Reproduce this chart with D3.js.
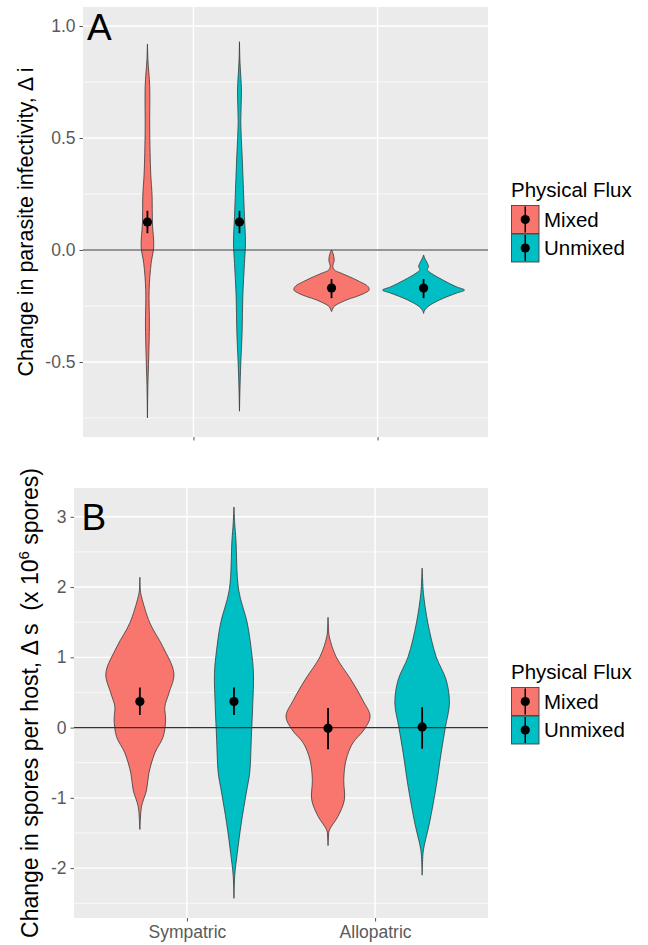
<!DOCTYPE html>
<html>
<head>
<meta charset="utf-8">
<script src="https://cdn.jsdelivr.net/npm/d3@7"></script>
<style>
body { margin: 0; background: #fff; }
text { font-family: "Liberation Sans", Arial, sans-serif; }
</style>
</head>
<body>
<div id="chart"></div>
<script>
// categories / groups
var categories = ["Sympatric", "Allopatric"];
var groups = ["Mixed", "Unmixed"];
var groupColors = ["#F8766D", "#00BFC4"];

// Panel A violins: values of delta i and relative density (1 = widest)
var aSymMixedY = [0.92, 0.85, 0.73, 0.54, 0.34, 0.24, 0.12, 0.015, -0.06, -0.18, -0.33, -0.48, -0.6, -0.75];
var aSymMixedD = [0, 0.012, 0.055, 0.055, 0.08, 0.113, 0.12, 0.152, 0.089, 0.041, 0.048, 0.031, 0.012, 0];
var aSymUnmixedY = [0.93, 0.84, 0.71, 0.57, 0.42, 0.27, 0.15, 0.03, -0.06, -0.21, -0.36, -0.51, -0.62, -0.72];
var aSymUnmixedD = [0, 0.012, 0.048, 0.031, 0.065, 0.096, 0.12, 0.145, 0.12, 0.08, 0.065, 0.031, 0.012, 0];
var aAlloMixedY = [0.0, -0.015, -0.045, -0.074, -0.09, -0.104, -0.134, -0.164, -0.179, -0.193, -0.208, -0.223, -0.253, -0.265, -0.275];
var aAlloMixedD = [0, 0.036, 0.065, 0.031, 0.072, 0.241, 0.602, 0.884, 0.908, 0.795, 0.602, 0.361, 0.055, 0.024, 0];
var aAlloUnmixedY = [-0.022, -0.04, -0.055, -0.074, -0.088, -0.104, -0.134, -0.164, -0.179, -0.193, -0.223, -0.253, -0.27, -0.283];
var aAlloUnmixedD = [0, 0.036, 0.08, 0.12, 0.09, 0.186, 0.465, 0.788, 0.988, 0.788, 0.386, 0.104, 0.024, 0];

// Panel B violins: values of delta s (x 10^6) and relative density
var bSymMixedY = [2.14, 1.95, 1.86, 1.49, 1.15, 0.77, 0.49, 0.30, 0.11, -0.13, -0.36, -0.65, -0.89, -1.12, -1.30, -1.45];
var bSymMixedD = [0, 0.012, 0.04, 0.236, 0.544, 0.804, 0.686, 0.591, 0.608, 0.551, 0.355, 0.213, 0.158, 0.04, 0.012, 0];
var bSymUnmixedY = [3.14, 2.9, 2.67, 1.96, 1.49, 1.11, 0.77, 0.30, -0.17, -0.41, -0.65, -0.93, -1.36, -1.79, -2.1, -2.43];
var bSymUnmixedD = [0, 0.019, 0.047, 0.111, 0.314, 0.409, 0.461, 0.442, 0.409, 0.395, 0.371, 0.291, 0.173, 0.078, 0.019, 0];
var bAlloMixedY = [1.57, 1.4, 1.29, 1.01, 0.68, 0.39, 0.16, -0.03, -0.22, -0.46, -0.74, -1.03, -1.27, -1.46, -1.57, -1.68];
var bAlloMixedD = [0, 0.012, 0.031, 0.189, 0.544, 0.82, 0.993, 0.851, 0.584, 0.426, 0.371, 0.385, 0.229, 0.031, 0.009, 0];
var bAlloUnmixedY = [2.27, 2.1, 1.91, 1.49, 1.01, 0.68, 0.35, 0.01, -0.36, -0.84, -1.36, -1.74, -1.92, -2.10];
var bAlloUnmixedD = [0, 0.012, 0.031, 0.135, 0.331, 0.567, 0.645, 0.551, 0.449, 0.331, 0.173, 0.031, 0.009, 0];

// means with 95% CI, order: Sym-Mixed, Sym-Unmixed, Allo-Mixed, Allo-Unmixed
var aMean = [0.125, 0.125, -0.17, -0.17];
var aLow = [0.075, 0.075, -0.215, -0.215];
var aHigh = [0.175, 0.175, -0.13, -0.13];
var bMean = [0.37, 0.37, -0.01, 0.01];
var bLow = [0.18, 0.18, -0.31, -0.30];
var bHigh = [0.57, 0.57, 0.28, 0.29];

var aTicks = [-0.5, 0, 0.5, 1.0];
var bTicks = [-2, -1, 0, 1, 2, 3];

var width = 648, height = 945;

var svg = d3.select("#chart").append("svg")
  .attr("width", width)
  .attr("height", height);

function drawPanel(p) {
  var g = svg.append("g");

  var x = d3.scalePoint()
    .domain(categories)
    .range([p.left, p.right])
    .padding(0.6);
  var step = x.step();

  var y = d3.scaleLinear()
    .domain(p.yDomain)
    .range([p.bottom, p.top]);

  var w = d3.scaleLinear().domain([0, 1]).range([0, 0.225 * step]);

  // background
  g.append("rect")
    .attr("x", p.left).attr("y", p.top)
    .attr("width", p.right - p.left).attr("height", p.bottom - p.top)
    .attr("fill", "#EBEBEB");

  // minor grid
  var minor = [];
  for (var i = 0; i < p.ticks.length; i++) {
    var d = p.ticks[1] - p.ticks[0];
    minor.push(p.ticks[i] - d / 2);
    if (i == p.ticks.length - 1) minor.push(p.ticks[i] + d / 2);
  }
  minor = minor.filter(v => y(v) > p.top && y(v) < p.bottom);
  g.selectAll(".minor").data(minor).enter().append("line")
    .attr("x1", p.left).attr("x2", p.right)
    .attr("y1", d => y(d)).attr("y2", d => y(d))
    .attr("stroke", "#fff").attr("stroke-width", 0.7);

  // major grid
  g.selectAll(".majorY").data(p.ticks).enter().append("line")
    .attr("x1", p.left).attr("x2", p.right)
    .attr("y1", d => y(d)).attr("y2", d => y(d))
    .attr("stroke", "#fff").attr("stroke-width", 1.4);
  g.selectAll(".majorX").data(categories).enter().append("line")
    .attr("x1", d => x(d)).attr("x2", d => x(d))
    .attr("y1", p.top).attr("y2", p.bottom)
    .attr("stroke", "#fff").attr("stroke-width", 1.4);

  // axes
  var yAxis = d3.axisLeft(y).tickValues(p.ticks)
    .tickFormat(d => p.fmt(d).replace("\u2212", "-"))
    .tickSize(3.5).tickPadding(4);
  var ya = g.append("g").attr("transform", "translate(" + p.left + ",0)").call(yAxis);
  ya.select(".domain").remove();
  ya.selectAll("line").attr("stroke", "#555");
  ya.selectAll("text").attr("fill", "#5a5a5a").style("font-size", "17.5px")
    .style("font-family", "Liberation Sans, Arial, sans-serif");

  var xAxis = d3.axisBottom(x).tickSize(3.5).tickPadding(4);
  if (!p.xLabels) xAxis.tickFormat("");
  var xa = g.append("g").attr("transform", "translate(0," + p.bottom + ")").call(xAxis);
  xa.select(".domain").remove();
  xa.selectAll("line").attr("stroke", "#555");
  xa.selectAll("text").attr("fill", "#5a5a5a").style("font-size", "17.5px")
    .style("font-family", "Liberation Sans, Arial, sans-serif");

  // violins
  var area = d3.area()
    .curve(d3.curveCatmullRom.alpha(0.5))
    .y(d => y(d.v));

  p.violins.forEach(function (vio, k) {
    var ci = Math.floor(k / 2), gi = k % 2;
    var cx = x(categories[ci]) + (gi == 0 ? -0.25 : 0.25) * step;
    var pts = vio.ys.map((v, j) => ({ v: v, d: vio.ds[j] }));
    area.x0(d => cx - w(d.d)).x1(d => cx + w(d.d));
    g.append("path")
      .attr("d", area(pts))
      .attr("fill", groupColors[gi])
      .attr("stroke", "#333")
      .attr("stroke-opacity", 0.85)
      .attr("stroke-width", 0.9);
  });

  // zero line
  g.append("line")
    .attr("x1", p.left).attr("x2", p.right)
    .attr("y1", y(0)).attr("y2", y(0))
    .attr("stroke", "#333").attr("stroke-width", 1.2);

  // mean and CI
  p.mean.forEach(function (m, k) {
    var ci = Math.floor(k / 2), gi = k % 2;
    var cx = x(categories[ci]) + (gi == 0 ? -0.25 : 0.25) * step;
    g.append("line")
      .attr("x1", cx).attr("x2", cx)
      .attr("y1", y(p.low[k])).attr("y2", y(p.high[k]))
      .attr("stroke", "#000").attr("stroke-width", 1.8);
    g.append("circle")
      .attr("cx", cx).attr("cy", y(m)).attr("r", 4.6)
      .attr("fill", "#000");
  });

  // panel letter
  g.append("text")
    .attr("x", p.left + p.letterDx).attr("y", p.top + p.letterDy)
    .style("font-size", "37px")
    .attr("fill", "#000")
    .text(p.letter);

  // y title
  var t = g.append("text")
    .attr("transform", "translate(" + p.titleX + "," + ((p.top + p.bottom) / 2) + ") rotate(-90)")
    .attr("text-anchor", "middle")
    .style("font-size", p.titleSize)
    .style("white-space", "pre")
    .attr("fill", "#000");
  p.title(t);

  // legend
  var lg = svg.append("g");
  lg.append("text")
    .attr("x", 511).attr("y", p.legendTop)
    .style("font-size", "20.5px")
    .text("Physical Flux");
  groups.forEach(function (name, i) {
    var ky = p.legendTop + 8.5 + i * 28.5;
    lg.append("rect")
      .attr("x", 511.5).attr("y", ky)
      .attr("width", 27.5).attr("height", 28)
      .attr("fill", groupColors[i])
      .attr("stroke", "#444").attr("stroke-width", 0.9);
    lg.append("line")
      .attr("x1", 525.25).attr("x2", 525.25)
      .attr("y1", ky + 1).attr("y2", ky + 27)
      .attr("stroke", "#000").attr("stroke-width", 1.5);
    lg.append("circle")
      .attr("cx", 525.25).attr("cy", ky + 14).attr("r", 4.6)
      .attr("fill", "#000");
    lg.append("text")
      .attr("x", 544).attr("y", ky + 14)
      .attr("dy", "0.35em")
      .style("font-size", "20.5px")
      .text(name);
  });
}

drawPanel({
  left: 83, right: 488, top: 7, bottom: 437,
  yDomain: [-0.835, 1.085],
  ticks: aTicks,
  fmt: d3.format(".1f"),
  xLabels: false,
  violins: [
    { ys: aSymMixedY, ds: aSymMixedD },
    { ys: aSymUnmixedY, ds: aSymUnmixedD },
    { ys: aAlloMixedY, ds: aAlloMixedD },
    { ys: aAlloUnmixedY, ds: aAlloUnmixedD }
  ],
  mean: aMean, low: aLow, high: aHigh,
  letter: "A", letterDx: 4, letterDy: 33,
  titleX: 33, titleSize: "21.5px",
  title: function (t) { t.text("Change in parasite infectivity, \u0394 i"); },
  legendTop: 197
});

drawPanel({
  left: 74, right: 488, top: 488, bottom: 918,
  yDomain: [-2.71, 3.41],
  ticks: bTicks,
  fmt: d3.format("d"),
  xLabels: true,
  violins: [
    { ys: bSymMixedY, ds: bSymMixedD },
    { ys: bSymUnmixedY, ds: bSymUnmixedD },
    { ys: bAlloMixedY, ds: bAlloMixedD },
    { ys: bAlloUnmixedY, ds: bAlloUnmixedD }
  ],
  mean: bMean, low: bLow, high: bHigh,
  letter: "B", letterDx: 7.5, letterDy: 42,
  titleX: 37.5, titleSize: "23px",
  title: function (t) {
    t.append("tspan").text("Change in spores per host, \u0394 s  (x 10");
    t.append("tspan").attr("dy", -9).style("font-size", "15px").text("6");
    t.append("tspan").attr("dy", 9).text(" spores)");
  },
  legendTop: 679
});
</script>
</body>
</html>
